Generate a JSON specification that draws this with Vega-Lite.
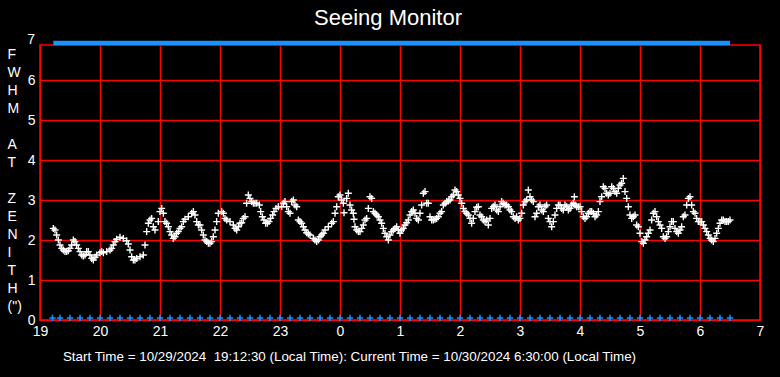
{
 "$schema": "https://vega.github.io/schema/vega-lite/v6.json",
 "width": 720,
 "height": 275,
 "autosize": {"type": "none"},
 "padding": {"left": 40, "top": 45, "right": 20, "bottom": 57},
 "background": "#000000",
 "config": {"view": {"stroke": "#ff0000", "strokeWidth": 1.5}, "font": "Liberation Sans"},
 "title": {"text": "Seeing Monitor", "color": "#ffffff", "fontSize": 22, "fontWeight": "normal", "font": "Liberation Sans", "anchor": "middle", "frame": "group", "baseline": "alphabetic", "offset": 17, "dx": -12, "dy": 31},
 "datasets": {
  "seeing": [
   {"t":19.222,"v":2.29},{"t":19.25,"v":2.25},{"t":19.278,"v":2.125},{"t":19.306,"v":2.0},{"t":19.333,"v":1.875},{"t":19.361,"v":1.79},{"t":19.389,"v":1.75},{"t":19.417,"v":1.71},{"t":19.444,"v":1.71},{"t":19.472,"v":1.73},{"t":19.5,"v":1.79},{"t":19.528,"v":1.875},{"t":19.556,"v":2.0},{"t":19.583,"v":1.96},{"t":19.611,"v":1.875},{"t":19.639,"v":1.79},{"t":19.667,"v":1.71},{"t":19.694,"v":1.625},{"t":19.722,"v":1.6},{"t":19.75,"v":1.625},{"t":19.778,"v":1.71},{"t":19.806,"v":1.71},{"t":19.833,"v":1.625},{"t":19.861,"v":1.54},{"t":19.889,"v":1.5},{"t":19.917,"v":1.57},{"t":19.944,"v":1.625},{"t":20.0,"v":1.68},{"t":20.028,"v":1.71},{"t":20.056,"v":1.68},{"t":20.111,"v":1.71},{"t":20.167,"v":1.75},{"t":20.194,"v":1.79},{"t":20.222,"v":1.875},{"t":20.25,"v":1.96},{"t":20.278,"v":2.02},{"t":20.333,"v":2.07},{"t":20.389,"v":2.04},{"t":20.444,"v":1.98},{"t":20.472,"v":1.9},{"t":20.5,"v":1.75},{"t":20.528,"v":1.58},{"t":20.556,"v":1.5},{"t":20.583,"v":1.5},{"t":20.611,"v":1.54},{"t":20.667,"v":1.58},{"t":20.722,"v":1.625},{"t":20.75,"v":1.875},{"t":20.778,"v":2.21},{"t":20.806,"v":2.42},{"t":20.833,"v":2.5},{"t":20.861,"v":2.54},{"t":20.889,"v":2.33},{"t":20.917,"v":2.25},{"t":20.972,"v":2.46},{"t":21.0,"v":2.71},{"t":21.028,"v":2.79},{"t":21.056,"v":2.67},{"t":21.083,"v":2.46},{"t":21.111,"v":2.42},{"t":21.139,"v":2.33},{"t":21.167,"v":2.21},{"t":21.194,"v":2.125},{"t":21.222,"v":2.04},{"t":21.25,"v":2.08},{"t":21.278,"v":2.17},{"t":21.306,"v":2.21},{"t":21.333,"v":2.29},{"t":21.361,"v":2.33},{"t":21.389,"v":2.46},{"t":21.417,"v":2.52},{"t":21.472,"v":2.58},{"t":21.528,"v":2.67},{"t":21.556,"v":2.71},{"t":21.583,"v":2.625},{"t":21.611,"v":2.46},{"t":21.639,"v":2.375},
   {"t":21.667,"v":2.375},{"t":21.694,"v":2.25},{"t":21.722,"v":2.125},{"t":21.75,"v":2.0},{"t":21.778,"v":1.96},{"t":21.806,"v":1.92},{"t":21.833,"v":1.92},{"t":21.861,"v":1.96},{"t":21.889,"v":2.08},{"t":21.917,"v":2.25},{"t":21.944,"v":2.46},{"t":21.972,"v":2.67},{"t":22.028,"v":2.71},{"t":22.056,"v":2.67},{"t":22.083,"v":2.54},{"t":22.111,"v":2.5},{"t":22.167,"v":2.46},{"t":22.222,"v":2.375},{"t":22.25,"v":2.29},{"t":22.278,"v":2.25},{"t":22.306,"v":2.33},{"t":22.333,"v":2.42},{"t":22.361,"v":2.43},{"t":22.389,"v":2.54},{"t":22.417,"v":2.58},{"t":22.444,"v":2.92},{"t":22.472,"v":3.125},{"t":22.5,"v":3.04},{"t":22.528,"v":2.96},{"t":22.556,"v":2.92},{"t":22.583,"v":2.92},{"t":22.611,"v":2.92},{"t":22.656,"v":2.875},{"t":22.678,"v":2.71},{"t":22.706,"v":2.58},{"t":22.733,"v":2.5},{"t":22.761,"v":2.42},{"t":22.789,"v":2.42},{"t":22.817,"v":2.46},{"t":22.844,"v":2.54},{"t":22.878,"v":2.625},{"t":22.9,"v":2.71},{"t":22.933,"v":2.79},{"t":22.972,"v":2.83},{"t":23.028,"v":2.83},{"t":23.056,"v":2.92},{"t":23.083,"v":2.96},{"t":23.111,"v":2.83},{"t":23.139,"v":2.71},{"t":23.167,"v":2.67},{"t":23.194,"v":2.96},{"t":23.222,"v":3.0},{"t":23.25,"v":2.875},{"t":23.278,"v":2.83},{"t":23.306,"v":2.5},{"t":23.333,"v":2.46},{"t":23.361,"v":2.42},{"t":23.389,"v":2.33},{"t":23.417,"v":2.25},{"t":23.444,"v":2.18},{"t":23.472,"v":2.15},{"t":23.5,"v":2.125},{"t":23.556,"v":2.04},{"t":23.583,"v":2.0},{"t":23.611,"v":1.96},{"t":23.639,"v":2.0},{"t":23.667,"v":2.08},{"t":23.694,"v":2.125},{"t":23.722,"v":2.17},{"t":23.75,"v":2.25},{"t":23.806,"v":2.33},{"t":23.861,"v":2.42},{"t":23.889,"v":2.46},{"t":23.917,"v":2.67},{"t":23.944,"v":2.83},{"t":23.972,"v":3.08},{"t":24.0,"v":3.125},{"t":24.028,"v":3.0},{"t":24.056,"v":2.92},{"t":24.067,"v":2.68},{"t":24.111,"v":3.04},{"t":24.139,"v":3.17},{"t":24.167,"v":2.875},{"t":24.194,"v":2.75},{"t":24.222,"v":2.67},{"t":24.233,"v":2.52},{"t":24.25,"v":2.33},{"t":24.278,"v":2.25},{"t":24.306,"v":2.21},{"t":24.333,"v":2.21},{"t":24.361,"v":2.29},{"t":24.389,"v":2.375},{"t":24.417,"v":2.5},{"t":24.444,"v":2.54},{"t":24.472,"v":2.79},{"t":24.5,"v":3.08},{"t":24.528,"v":3.04},{"t":24.556,"v":2.71},{"t":24.583,"v":2.67},{"t":24.611,"v":2.625},{"t":24.639,"v":2.58},{"t":24.667,"v":2.5},{"t":24.694,"v":2.42},{"t":24.722,"v":2.29},{"t":24.75,"v":2.17},{"t":24.778,"v":2.08},{"t":24.806,"v":2.0},
   {"t":24.833,"v":2.125},{"t":24.861,"v":2.21},{"t":24.889,"v":2.25},{"t":24.917,"v":2.29},{"t":24.944,"v":2.33},{"t":24.972,"v":2.25},{"t":25.0,"v":2.17},{"t":25.028,"v":2.25},{"t":25.056,"v":2.29},{"t":25.083,"v":2.375},{"t":25.111,"v":2.43},{"t":25.139,"v":2.5},{"t":25.167,"v":2.625},{"t":25.194,"v":2.71},{"t":25.222,"v":2.75},{"t":25.25,"v":2.67},{"t":25.278,"v":2.54},{"t":25.306,"v":2.5},{"t":25.333,"v":2.67},{"t":25.361,"v":2.875},{"t":25.389,"v":3.17},{"t":25.417,"v":3.21},{"t":25.444,"v":2.92},{"t":25.472,"v":2.92},{"t":25.5,"v":2.58},{"t":25.528,"v":2.5},{"t":25.556,"v":2.5},{"t":25.583,"v":2.52},{"t":25.611,"v":2.54},{"t":25.639,"v":2.58},{"t":25.667,"v":2.67},{"t":25.694,"v":2.71},{"t":25.722,"v":2.875},{"t":25.75,"v":2.92},{"t":25.778,"v":2.96},{"t":25.806,"v":2.975},{"t":25.833,"v":3.0},{"t":25.861,"v":3.08},{"t":25.889,"v":3.125},{"t":25.917,"v":3.25},{"t":25.944,"v":3.21},{"t":25.972,"v":3.125},{"t":26.0,"v":3.04},{"t":26.028,"v":2.92},{"t":26.056,"v":2.79},{"t":26.083,"v":2.71},{"t":26.111,"v":2.67},{"t":26.139,"v":2.625},{"t":26.167,"v":2.54},{"t":26.194,"v":2.42},{"t":26.222,"v":2.54},{"t":26.25,"v":2.71},{"t":26.278,"v":2.82},{"t":26.306,"v":2.83},{"t":26.333,"v":2.625},{"t":26.361,"v":2.58},{"t":26.389,"v":2.5},{"t":26.417,"v":2.46},{"t":26.444,"v":2.5},{"t":26.472,"v":2.375},{"t":26.5,"v":2.54},{"t":26.528,"v":2.79},{"t":26.556,"v":2.83},{"t":26.583,"v":2.875},{"t":26.611,"v":2.75},{"t":26.639,"v":2.71},{"t":26.667,"v":2.83},{"t":26.694,"v":2.96},{"t":26.722,"v":2.92},{"t":26.75,"v":2.875},{"t":26.778,"v":2.875},{"t":26.806,"v":2.83},{"t":26.833,"v":2.75},{"t":26.861,"v":2.71},{"t":26.889,"v":2.58},{"t":26.917,"v":2.54},{"t":26.944,"v":2.58},{"t":26.972,"v":2.5},{"t":27.0,"v":2.54},{"t":27.028,"v":2.67},{"t":27.056,"v":2.875},{"t":27.083,"v":2.96},{"t":27.111,"v":3.0},{"t":27.139,"v":3.25},{"t":27.167,"v":3.08},{"t":27.194,"v":3.0},{"t":27.222,"v":2.96},{"t":27.25,"v":2.58},{"t":27.278,"v":2.67},{"t":27.306,"v":2.83},{"t":27.333,"v":2.875},{"t":27.361,"v":2.75},{"t":27.389,"v":2.71},{"t":27.417,"v":2.83},{"t":27.444,"v":2.875},{"t":27.472,"v":2.54},{"t":27.5,"v":2.46},{"t":27.528,"v":2.33},{"t":27.556,"v":2.46},{"t":27.583,"v":2.625},{"t":27.611,"v":2.79},{"t":27.639,"v":2.875},{"t":27.667,"v":2.875},{"t":27.694,"v":2.79},{"t":27.722,"v":2.75},{"t":27.75,"v":2.875},{"t":27.778,"v":2.83},{"t":27.806,"v":2.75},{"t":27.833,"v":2.79},{"t":27.861,"v":2.875},{"t":27.889,"v":2.92},{"t":27.906,"v":3.08},{"t":27.917,"v":2.875},{"t":27.944,"v":2.83},{"t":27.972,"v":2.83},
   {"t":28.0,"v":2.83},{"t":28.028,"v":2.71},{"t":28.056,"v":2.58},{"t":28.083,"v":2.54},{"t":28.111,"v":2.58},{"t":28.139,"v":2.67},{"t":28.167,"v":2.71},{"t":28.194,"v":2.71},{"t":28.222,"v":2.67},{"t":28.25,"v":2.58},{"t":28.278,"v":2.625},{"t":28.306,"v":2.71},{"t":28.333,"v":2.96},{"t":28.361,"v":3.08},{"t":28.389,"v":3.33},{"t":28.417,"v":3.29},{"t":28.444,"v":3.17},{"t":28.472,"v":3.125},{"t":28.5,"v":3.17},{"t":28.528,"v":3.33},{"t":28.556,"v":3.29},{"t":28.583,"v":3.21},{"t":28.611,"v":3.17},{"t":28.639,"v":3.29},{"t":28.667,"v":3.375},{"t":28.694,"v":3.42},{"t":28.722,"v":3.54},{"t":28.75,"v":3.21},{"t":28.778,"v":3.04},{"t":28.806,"v":2.83},{"t":28.833,"v":2.625},{"t":28.861,"v":2.54},{"t":28.889,"v":2.58},{"t":28.917,"v":2.625},{"t":28.944,"v":2.375},{"t":28.972,"v":2.33},{"t":29.0,"v":2.17},{"t":29.028,"v":1.96},{"t":29.056,"v":1.92},{"t":29.083,"v":2.0},{"t":29.111,"v":2.08},{"t":29.139,"v":2.17},{"t":29.167,"v":2.25},{"t":29.194,"v":2.5},{"t":29.222,"v":2.67},{"t":29.25,"v":2.71},{"t":29.278,"v":2.58},{"t":29.306,"v":2.46},{"t":29.333,"v":2.375},{"t":29.361,"v":2.29},{"t":29.389,"v":2.08},{"t":29.417,"v":2.04},{"t":29.444,"v":2.08},{"t":29.472,"v":2.21},{"t":29.5,"v":2.33},{"t":29.528,"v":2.46},{"t":29.556,"v":2.46},{"t":29.583,"v":2.29},{"t":29.611,"v":2.21},{"t":29.639,"v":2.17},{"t":29.667,"v":2.25},{"t":29.694,"v":2.33},{"t":29.722,"v":2.58},{"t":29.75,"v":2.625},{"t":29.778,"v":2.875},{"t":29.806,"v":3.04},{"t":29.833,"v":3.08},{"t":29.861,"v":2.875},{"t":29.889,"v":2.71},{"t":29.917,"v":2.67},{"t":29.944,"v":2.54},{"t":29.972,"v":2.46},{"t":30.0,"v":2.46},{"t":30.028,"v":2.46},{"t":30.056,"v":2.375},{"t":30.083,"v":2.29},{"t":30.111,"v":2.21},{"t":30.139,"v":2.125},{"t":30.167,"v":2.04},{"t":30.194,"v":2.0},{"t":30.222,"v":1.96},{"t":30.25,"v":2.04},{"t":30.278,"v":2.17},{"t":30.306,"v":2.29},{"t":30.333,"v":2.42},{"t":30.361,"v":2.5},{"t":30.389,"v":2.5},{"t":30.417,"v":2.46},{"t":30.444,"v":2.46},{"t":30.472,"v":2.46},{"t":30.5,"v":2.5}
  ],
  "ticks10": [
   {"t":19.208},{"t":19.333},{"t":19.5},{"t":19.667},{"t":19.833},{"t":20.0},{"t":20.167},{"t":20.333},{"t":20.5},{"t":20.667},{"t":20.833},{"t":21.0},{"t":21.167},{"t":21.333},{"t":21.5},{"t":21.667},{"t":21.833},{"t":22.0},{"t":22.167},{"t":22.333},{"t":22.5},{"t":22.667},{"t":22.833},{"t":23.0},{"t":23.167},{"t":23.333},{"t":23.5},{"t":23.667},{"t":23.833},{"t":24.0},{"t":24.167},{"t":24.333},{"t":24.5},{"t":24.667},{"t":24.833},{"t":25.0},{"t":25.167},{"t":25.333},{"t":25.5},{"t":25.667},{"t":25.833},{"t":26.0},{"t":26.167},{"t":26.333},{"t":26.5},{"t":26.667},{"t":26.833},{"t":27.0},{"t":27.167},{"t":27.333},{"t":27.5},{"t":27.667},{"t":27.833},{"t":28.0},{"t":28.167},{"t":28.333},{"t":28.5},{"t":28.667},{"t":28.833},{"t":29.0},{"t":29.167},{"t":29.333},{"t":29.5},{"t":29.667},{"t":29.833},{"t":30.0},{"t":30.167},{"t":30.333},{"t":30.5}
  ],
  "toplabel": [{"t": 19, "v": 7, "label": "7"}]
 },
 "layer": [
  {
   "data": {"name": "seeing"},
   "mark": {"type": "point", "shape": "M-1,0H1M0,-1V1", "filled": false, "stroke": "#ffffff", "strokeWidth": 1.4, "size": 49, "opacity": 1},
   "encoding": {
    "x": {"field": "t", "type": "quantitative",
     "scale": {"domain": [19, 31], "nice": false, "zero": false},
     "axis": {"values": [19,20,21,22,23,24,25,26,27,28,29,30,31], "labelExpr": "format(datum.value % 24, 'd')",
      "ticks": false, "domain": false, "grid": true, "gridColor": "#ff0000", "gridWidth": 1.5,
      "labelColor": "#ffffff", "labelFont": "Liberation Sans", "labelFontSize": 14, "labelPadding": 4, "labelFlush": false, "labelOverlap": false,
      "title": "Start Time = 10/29/2024 \u00a019:12:30 (Local Time): Current Time = 10/30/2024 6:30:00 (Local Time)",
      "titleColor": "#ffffff", "titleFont": "Liberation Sans", "titleFontSize": 13.4, "titleFontWeight": "normal",
      "titleX": 309, "titleY": 40, "titleAlign": "center", "titleBaseline": "alphabetic", "titleAnchor": null}},
    "y": {"field": "v", "type": "quantitative",
     "scale": {"domain": [0, 6.875], "nice": false, "zero": false},
     "axis": {"values": [0,0.5,1,1.5,2,2.5,3,3.5,4,4.5,5,5.5,6,6.5],
      "labelExpr": "datum.value % 1 === 0 ? format(datum.value, 'd') : ''",
      "ticks": false, "domain": false, "grid": true, "gridColor": "#ff0000", "gridWidth": 1.5,
      "gridDash": {"condition": {"test": "datum.value % 1 !== 0", "value": [12, 8]}, "value": []},
      "labelColor": "#ffffff", "labelFont": "Liberation Sans", "labelFontSize": 14, "labelPadding": 5, "labelOverlap": false, "labelFlush": false,
      "title": ["F","W","H","M","\u200b","A","T","\u200b","Z","E","N","I","T","H","(\")"],
      "titleColor": "#ffffff", "titleFont": "Liberation Sans", "titleFontSize": 14, "titleFontWeight": "normal",
      "titleAngle": 0, "titleAlign": "left", "titleBaseline": "top", "titleLineHeight": 18,
      "titleX": -33, "titleY": 2, "titleAnchor": null}}
   }
  },
  {
   "data": {"name": "seeing"},
   "mark": {"type": "line", "color": "#1e90ff", "strokeWidth": 4.6, "yOffset": 3, "strokeCap": "butt"},
   "encoding": {
    "x": {"field": "t", "type": "quantitative"},
    "y": {"datum": 7, "type": "quantitative"}
   }
  },
  {
   "data": {"name": "ticks10"},
   "mark": {"type": "point", "shape": "M-1,0H1M0,-1V1", "filled": false, "stroke": "#1e90ff", "strokeWidth": 1.5, "size": 40, "opacity": 1, "yOffset": -2},
   "encoding": {
    "x": {"field": "t", "type": "quantitative"},
    "y": {"datum": 0, "type": "quantitative"}
   }
  },
  {
   "data": {"name": "toplabel"},
   "mark": {"type": "text", "color": "#ffffff", "font": "Liberation Sans", "fontSize": 14, "align": "right", "baseline": "middle", "xOffset": -5},
   "encoding": {
    "x": {"field": "t", "type": "quantitative"},
    "y": {"field": "v", "type": "quantitative"},
    "text": {"field": "label"}
   }
  }
 ]
}
